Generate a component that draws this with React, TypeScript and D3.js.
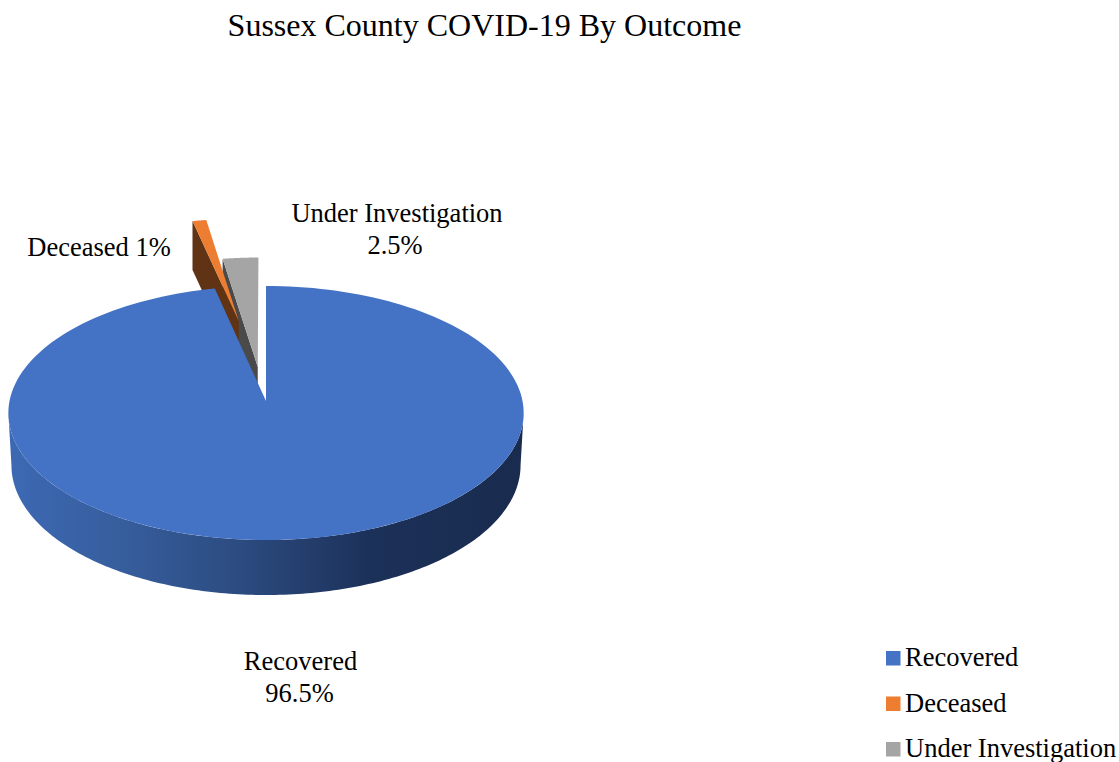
import * as d3 from 'd3';

const outcomes = ['Recovered', 'Deceased', 'Under Investigation'];
const shares = [96.5, 1, 2.5];
const sliceLabels = [['Recovered', '96.5%'], ['Deceased 1%'], ['Under Investigation', '2.5%']];
const colors = ['#4472c4', '#ed7d31', '#a5a5a5'];
const wallColors = ['#1a2c50', '#5f3314', '#4a4a4a'];

// how far each slice is pulled out of the pie, in units of the radius
const explodeU = [0, -0.113, -0.033];
const explodeV = [0, 0.676, 0.277];

const WIDTH = 1119;
const HEIGHT = 762;

// tilted pie: apex of the slices and the perspective of the plate
const apexX = 266;
const apexY = 401;
const radiusX = 256.5;
const radiusY = 125.9;
const persp = 0.0945;
const sliceDepth = 49;

const project = (u: number, v: number, widthScale = 1) => {
  const s = 1 / (1 + persp * v);
  return [apexX + radiusX * widthScale * u * s, apexY - radiusY * v * s];
};

const slices = d3.pie<number>().sort(null).value(d => d)(shares);
const line = d3.line();

const rim = (a0: number, a1: number, du = 0, dv = 0) =>
  d3.range(0, 181).map(i => {
    const a = a0 + ((a1 - a0) * i) / 180;
    return project(Math.sin(a) + du, Math.cos(a) + dv) as [number, number];
  });

const facePath = (i: number) => {
  const { startAngle, endAngle } = slices[i];
  const apex = project(explodeU[i], explodeV[i]) as [number, number];
  return line([apex, ...rim(startAngle, endAngle, explodeU[i], explodeV[i])]) + 'Z';
};

// the cut side of a pulled out slice, seen on its left
const cutPath = (i: number) => {
  const angle = slices[i].startAngle;
  const apex = project(explodeU[i], explodeV[i]);
  const corner = project(Math.sin(angle) + explodeU[i], Math.cos(angle) + explodeV[i]);
  return line([
    [apex[0], apex[1]],
    [corner[0], corner[1]],
    [corner[0], corner[1] + sliceDepth],
    [apex[0], apex[1] + sliceDepth],
  ]) + 'Z';
};

// outer wall of the big slice, between the two widest points of the plate
const wallStart = Math.acos(-persp);
const wallEnd = 2 * Math.PI - wallStart;
const wallUpper = d3.range(0, 181).map(i => {
  const a = wallStart + ((wallEnd - wallStart) * i) / 180;
  return project(Math.sin(a), Math.cos(a)) as [number, number];
});
const wallLower = d3.range(0, 181).map(i => {
  const a = wallEnd - ((wallEnd - wallStart) * i) / 180;
  const p = project(Math.sin(a), Math.cos(a), 0.988);
  return [p[0], p[1] + 52 - 3 * Math.cos(a)] as [number, number];
});
const wallPath = line([...wallUpper, ...wallLower]) + 'Z';

const legendY = d3.scalePoint<string>().domain(outcomes).range([658, 749]);

const serif = '"Liberation Serif", "Times New Roman", serif';

export default function App() {
  return (
    <svg
      width={WIDTH}
      height={HEIGHT}
      style={{ position: 'absolute', left: 0, top: 0, background: '#fff' }}
      fontFamily={serif}
      fill="#000"
    >
      <defs>
        <linearGradient id="wallShade" gradientUnits="userSpaceOnUse" x1={9} x2={524} y1={0} y2={0}>
          <stop offset="0" stopColor="#3d69b4" />
          <stop offset="0.2" stopColor="#375f9f" />
          <stop offset="0.45" stopColor="#2c4b80" />
          <stop offset="0.7" stopColor="#1c3159" />
          <stop offset="1" stopColor="#192b4e" />
        </linearGradient>
      </defs>

      <text x={484.5} y={36} fontSize={32} textAnchor="middle">
        Sussex County COVID-19 By Outcome
      </text>

      <path d={wallPath} fill="url(#wallShade)" />
      <path d={cutPath(2)} fill={wallColors[2]} />
      <path d={facePath(2)} fill={colors[2]} />
      <path d={cutPath(1)} fill={wallColors[1]} />
      <path d={facePath(1)} fill={colors[1]} />
      <path d={facePath(0)} fill={colors[0]} />

      <g fontSize={26.5} textAnchor="middle">
        {sliceLabels[0].map((t, i) => (
          <text key={t} x={i === 0 ? 300.5 : 299.5} y={670 + i * 32}>{t}</text>
        ))}
        <text x={99} y={256}>{sliceLabels[1][0]}</text>
        {sliceLabels[2].map((t, i) => (
          <text key={t} x={i === 0 ? 397 : 395} y={222 + i * 32}>{t}</text>
        ))}
      </g>

      {outcomes.map((name, i) => (
        <g key={name}>
          <rect x={886} y={legendY(name)! - 7} width={14.5} height={14.5} fill={colors[i]} />
          <text x={905} y={legendY(name)! + 8} fontSize={26.5}>{name}</text>
        </g>
      ))}
    </svg>
  );
}
